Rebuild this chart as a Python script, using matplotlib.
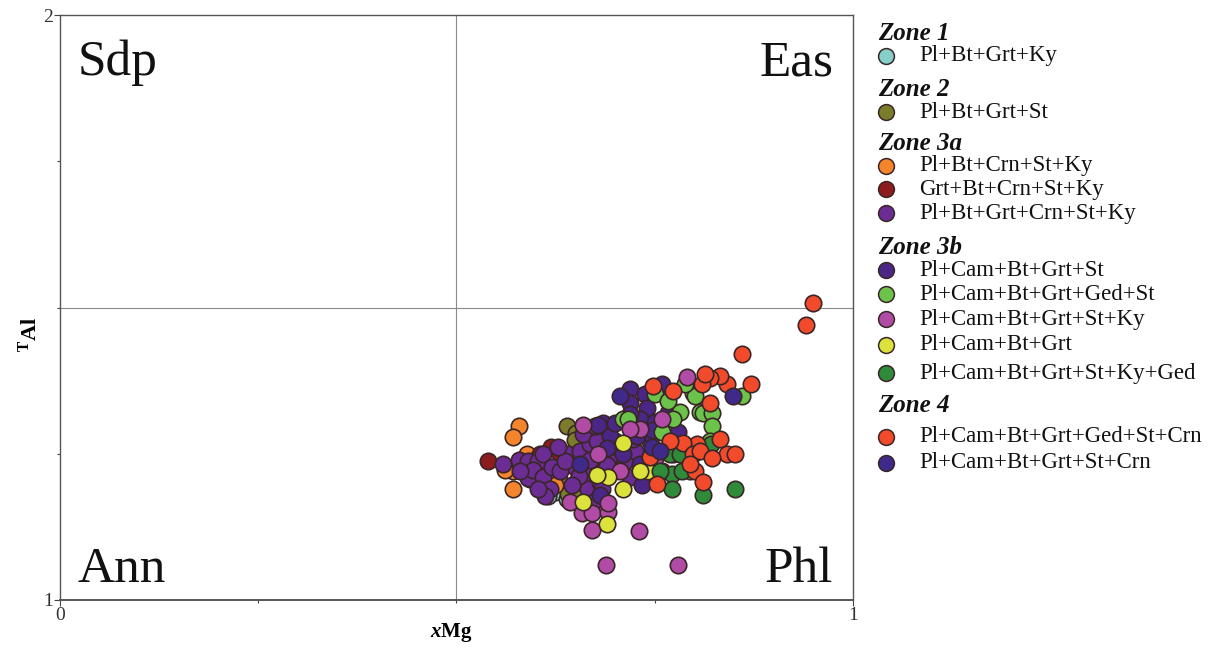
import matplotlib
matplotlib.use("Agg")
import matplotlib.pyplot as plt

plt.rcParams['font.family'] = ['Liberation Serif', 'DejaVu Serif']
plt.rcParams['mathtext.fontset'] = 'custom'
plt.rcParams['mathtext.rm'] = 'Liberation Serif'
plt.rcParams['mathtext.bf'] = 'Liberation Serif:bold'
plt.rcParams['mathtext.it'] = 'Liberation Serif:italic'
plt.rcParams['mathtext.bfit'] = 'Liberation Serif:italic:bold'

# ---- data: xMg vs TAl ----
z1_x = [0.624, 0.639, 0.615]
z1_y = [1.185, 1.173, 1.177]

z2_x = [0.639, 0.651, 0.649, 0.631, 0.631, 0.641, 0.653]
z2_y = [1.298, 1.286, 1.274, 1.230, 1.201, 1.182, 1.182]

z3a_crn_x = [0.579, 0.571, 0.589, 0.571, 0.571, 0.599, 0.593, 0.612, 0.624, 0.561]
z3a_crn_y = [1.298, 1.278, 1.250, 1.220, 1.190, 1.240, 1.206, 1.211, 1.197, 1.223]

z3a_grt_x = [0.540, 0.619, 0.631, 0.681, 0.605]
z3a_grt_y = [1.238, 1.262, 1.250, 1.228, 1.250]

z3a_all_x = [0.559, 0.579, 0.590, 0.590, 0.603, 0.609, 0.596, 0.609, 0.618, 0.620,
             0.641, 0.649, 0.652, 0.665, 0.656, 0.668, 0.660, 0.677, 0.666, 0.672,
             0.631, 0.612, 0.637, 0.668, 0.681, 0.694, 0.700, 0.712, 0.725, 0.719,
             0.738, 0.580, 0.603, 0.687, 0.675, 0.700, 0.744, 0.628, 0.655, 0.690,
             0.706, 0.722, 0.684, 0.646]
z3a_all_y = [1.232, 1.240, 1.237, 1.208, 1.237, 1.250, 1.223, 1.211, 1.190, 1.228,
             1.249, 1.228, 1.202, 1.216, 1.254, 1.266, 1.283, 1.271, 1.189, 1.168,
             1.220, 1.177, 1.237, 1.240, 1.202, 1.245, 1.220, 1.237, 1.254, 1.211,
             1.233, 1.220, 1.189, 1.297, 1.297, 1.271, 1.271, 1.262, 1.212, 1.230,
             1.258, 1.275, 1.190, 1.196]

z3b_st_x = [0.719, 0.719, 0.759, 0.738, 0.740, 0.731, 0.767, 0.740, 0.779, 0.728,
            0.685, 0.694, 0.710, 0.731, 0.734, 0.681, 0.678, 0.690, 0.700, 0.750,
            0.719, 0.748]
z3b_st_y = [1.360, 1.336, 1.369, 1.352, 1.328, 1.309, 1.319, 1.285, 1.288, 1.280,
            1.302, 1.280, 1.249, 1.232, 1.197, 1.180, 1.300, 1.259, 1.302, 1.305,
            1.318, 1.290]

z3b_ged_x = [0.750, 0.767, 0.798, 0.807, 0.782, 0.773, 0.759, 0.710, 0.716, 0.791,
             0.773, 0.759, 0.794, 0.860, 0.811, 0.822, 0.822, 0.820, 0.801, 0.788]
z3b_ged_y = [1.352, 1.340, 1.353, 1.322, 1.322, 1.309, 1.288, 1.309, 1.309, 1.249,
             1.249, 1.220, 1.220, 1.348, 1.319, 1.319, 1.297, 1.271, 1.348, 1.369]

z3b_ky_x = [0.689, 0.779, 0.671, 0.730, 0.658, 0.671, 0.691, 0.691, 0.791, 0.759,
            0.750, 0.678, 0.731, 0.660, 0.719, 0.706, 0.643]
z3b_ky_y = [1.060, 1.060, 1.120, 1.118, 1.148, 1.148, 1.151, 1.165, 1.381, 1.309,
            1.242, 1.250, 1.292, 1.300, 1.293, 1.220, 1.168]

z3b_grt_x = [0.690, 0.660, 0.710, 0.691, 0.710, 0.741, 0.677, 0.731]
z3b_grt_y = [1.130, 1.168, 1.190, 1.211, 1.269, 1.220, 1.214, 1.220]

z3b_kyged_x = [0.769, 0.782, 0.772, 0.784, 0.772, 0.811, 0.851, 0.821, 0.757]
z3b_kyged_y = [1.249, 1.249, 1.216, 1.220, 1.190, 1.180, 1.190, 1.266, 1.220]

z4_ged_x = [0.950, 0.941, 0.860, 0.871, 0.841, 0.832, 0.820, 0.810, 0.773, 0.748,
            0.813, 0.820, 0.832, 0.803, 0.786, 0.798, 0.841, 0.851, 0.801, 0.811,
            0.807, 0.753, 0.769, 0.744, 0.794, 0.822]
z4_ged_y = [1.508, 1.470, 1.420, 1.369, 1.369, 1.383, 1.379, 1.369, 1.357, 1.365,
            1.386, 1.336, 1.276, 1.266, 1.268, 1.250, 1.250, 1.250, 1.220, 1.202,
            1.254, 1.199, 1.271, 1.245, 1.233, 1.242]

z4_st_x = [0.849, 0.706, 0.747, 0.656, 0.757]
z4_st_y = [1.348, 1.348, 1.262, 1.233, 1.254]

# zone header, label, color, data
legend_rows = [
    ("Zone 1", None, None, None, None),
    (None, "Pl+Bt+Grt+Ky", "#86cfc8", z1_x, z1_y),
    ("Zone 2", None, None, None, None),
    (None, "Pl+Bt+Grt+St", "#7b7d2c", z2_x, z2_y),
    ("Zone 3a", None, None, None, None),
    (None, "Pl+Bt+Crn+St+Ky", "#f5852c", z3a_crn_x, z3a_crn_y),
    (None, "Grt+Bt+Crn+St+Ky", "#8c1c1e", z3a_grt_x, z3a_grt_y),
    (None, "Pl+Bt+Grt+Crn+St+Ky", "#6b2d93", z3a_all_x, z3a_all_y),
    ("Zone 3b", None, None, None, None),
    (None, "Pl+Cam+Bt+Grt+St", "#4a2787", z3b_st_x, z3b_st_y),
    (None, "Pl+Cam+Bt+Grt+Ged+St", "#6cc34a", z3b_ged_x, z3b_ged_y),
    (None, "Pl+Cam+Bt+Grt+St+Ky", "#b04ca6", z3b_ky_x, z3b_ky_y),
    (None, "Pl+Cam+Bt+Grt", "#dbe23c", z3b_grt_x, z3b_grt_y),
    (None, "Pl+Cam+Bt+Grt+St+Ky+Ged", "#2f8a3a", z3b_kyged_x, z3b_kyged_y),
    ("Zone 4", None, None, None, None),
    (None, "Pl+Cam+Bt+Grt+Ged+St+Crn", "#f24b2b", z4_ged_x, z4_ged_y),
    (None, "Pl+Cam+Bt+Grt+St+Crn", "#3f2a8c", z4_st_x, z4_st_y),
]
row_y_px = [34, 56, 90, 112, 143, 166, 189, 213, 247, 270, 294, 319, 345, 373, 406, 437, 463]

fig = plt.figure(figsize=(12.19, 6.51), dpi=100)
ax = fig.add_axes([60 / 1219, 51 / 651, 793 / 1219, 585 / 651])

for head, lab, col, xs, ys in legend_rows:
    if lab is None:
        continue
    ax.scatter(xs, ys, s=140, color=col, edgecolor="#3a2626", linewidth=1.2, zorder=3)

ax.axvline(0.5, color="#8a8a8a", lw=0.8, zorder=1)
ax.axhline(1.5, color="#8a8a8a", lw=0.8, zorder=1)

ax.set_xlim(0, 1)
ax.set_ylim(1, 2)
ax.set_xticks([0, 1])
ax.set_yticks([1, 2])
ax.set_xticks([0.25, 0.5, 0.75], minor=True)
ax.set_yticks([1.25, 1.5, 1.75], minor=True)
ax.tick_params(which="major", length=4, width=0.8, color="#444", labelsize=14, pad=1,
               labelcolor="#333")
ax.tick_params(which="minor", length=2, width=0.8, color="#444")
for sp in ax.spines.values():
    sp.set_color("#555555")
    sp.set_linewidth(1.0)
ax.spines["bottom"].set_linewidth(1.4)

corner = dict(fontsize=37, color="#111")
ax.text(0.022, 0.958, "Sdp", transform=ax.transAxes, ha="left", va="top", **corner)
ax.text(0.975, 0.958, "Eas", transform=ax.transAxes, ha="right", va="top", **corner)
ax.text(0.022, 0.03, "Ann", transform=ax.transAxes, ha="left", va="baseline", **corner)
ax.text(0.975, 0.03, "Phl", transform=ax.transAxes, ha="right", va="baseline", **corner)

fig.text(451 / 1219, 1 - 633 / 651, r"$\mathbfit{x}$Mg", ha="center", va="center",
         fontsize=15, fontweight="bold")
fig.text(30 / 1219, 1 - 335 / 651, r"${}^{\mathbf{T}}\mathbf{Al}$", ha="center", va="center",
         rotation=90, fontsize=16)

# legend panel drawn in pixel space
lax = fig.add_axes([860 / 1219, 0, 359 / 1219, 1])
lax.set_xlim(860, 1219)
lax.set_ylim(651, 0)
lax.axis("off")
for (head, lab, col, xs, ys), py in zip(legend_rows, row_y_px):
    if head is not None:
        lax.text(878, py, head, fontsize=18, fontweight="bold", fontstyle="italic",
                 ha="left", va="center", color="#111")
    else:
        lax.scatter([886], [py], s=130, color=col, edgecolor="#3a2626", linewidth=1.1,
                    clip_on=False)
        lax.text(919, py, lab, fontsize=16.5, ha="left", va="center", color="#111")

plt.savefig("out.png", dpi=100)
